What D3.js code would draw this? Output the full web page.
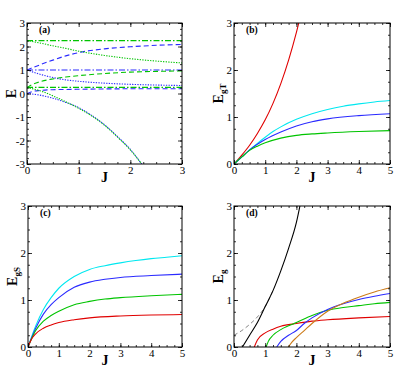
<!DOCTYPE html>
<html>
<head>
<meta charset="utf-8">
<script src="https://cdn.jsdelivr.net/npm/d3@7"></script>
<style>
  body { margin: 0; background: #fff; }
  text { font-family: "Liberation Serif", "Times New Roman", serif; }
</style>
</head>
<body>
<svg id="chart" width="415" height="369"></svg>
<script>
// four panels of energies vs J

// ---- panel (a): E vs J ----
const aGreenDashDotHigh = [[0, 2.25], [3, 2.25]];
const aGreenDashDotLow = [[0, 0.26], [3, 0.26]];
const aBlueDashDot = [[0, 1.0], [3, 1.0]];
const aGreenDotHigh = [[0, 2.25], [0.25, 2.15], [0.5, 2.03], [0.75, 1.92], [1, 1.8], [1.5, 1.62], [2, 1.48], [2.5, 1.38], [3, 1.3]];
const aBlueDashHigh = [[0, 1.0], [0.25, 1.22], [0.5, 1.42], [0.75, 1.6], [1, 1.74], [1.5, 1.9], [2, 1.99], [2.5, 2.05], [3, 2.09]];
const aGreenDashMid = [[0, 0.25], [0.1, 0.38], [0.25, 0.5], [0.5, 0.62], [0.75, 0.7], [1, 0.76], [1.5, 0.85], [2, 0.91], [2.5, 0.94], [3, 0.96]];
const aBlueDotMid = [[0, 1.0], [0.25, 0.82], [0.5, 0.68], [0.75, 0.58], [1, 0.52], [1.5, 0.44], [2, 0.39], [2.5, 0.36], [3, 0.34]];
const aBlueDashLow = [[0, 0], [0.1, 0.08], [0.25, 0.13], [0.5, 0.16], [1, 0.18], [2, 0.2], [3, 0.2]];
const aBlueDotLow = [[0, 0], [0.25, -0.07], [0.5, -0.2], [0.75, -0.38], [1, -0.6], [1.25, -0.93], [1.5, -1.33], [1.75, -1.83], [2, -2.38], [2.22, -3]];
const aGreenDotLow = [[0, 0.25], [0.25, 0.12], [0.5, -0.1], [0.75, -0.35], [1, -0.63], [1.25, -0.95], [1.5, -1.35], [1.75, -1.85], [2, -2.4], [2.22, -3]];

// ---- panel (b): E_gT vs J ----
const bRed = [[0, 0], [0.25, 0.19], [0.5, 0.4], [0.75, 0.65], [1, 0.94], [1.25, 1.29], [1.5, 1.71], [1.75, 2.21], [2, 2.8], [2.25, 3.49]];
const bCyan = [[0, 0], [0.25, 0.15], [0.5, 0.3], [0.75, 0.44], [1, 0.57], [1.25, 0.69], [1.5, 0.79], [2, 0.95], [2.5, 1.07], [3, 1.16], [3.5, 1.23], [4, 1.28], [4.5, 1.32], [5, 1.35]];
const bBlue = [[0, 0], [0.25, 0.15], [0.5, 0.3], [0.75, 0.42], [1, 0.52], [1.5, 0.68], [2, 0.81], [2.5, 0.9], [3, 0.96], [4, 1.03], [5, 1.07]];
const bGreen = [[0, 0], [0.25, 0.15], [0.5, 0.29], [0.75, 0.38], [1, 0.45], [1.5, 0.55], [2, 0.61], [2.5, 0.64], [3, 0.66], [4, 0.69], [5, 0.71]];

// ---- panel (c): E_gS vs J ----
const cCyan = [[0, 0], [0.25, 0.45], [0.5, 0.8], [0.75, 1.05], [1, 1.25], [1.5, 1.5], [2, 1.65], [2.5, 1.73], [3, 1.79], [3.5, 1.84], [4, 1.88], [4.5, 1.91], [5, 1.94]];
const cBlue = [[0, 0], [0.25, 0.4], [0.5, 0.7], [0.75, 0.9], [1, 1.05], [1.5, 1.27], [2, 1.38], [2.5, 1.44], [3, 1.48], [4, 1.52], [5, 1.55]];
const cGreen = [[0, 0], [0.25, 0.35], [0.5, 0.55], [0.75, 0.67], [1, 0.76], [1.5, 0.9], [2, 0.97], [2.5, 1.02], [3, 1.05], [4, 1.09], [5, 1.12]];
const cRed = [[0, 0], [0.1, 0.15], [0.25, 0.28], [0.5, 0.4], [0.75, 0.47], [1, 0.52], [1.5, 0.58], [2, 0.62], [3, 0.66], [4, 0.68], [5, 0.69]];

// ---- panel (d): E_g vs J ----
const dBlack = [[0.27, 0], [0.5, 0.25], [0.75, 0.52], [1, 0.86], [1.25, 1.2], [1.5, 1.62], [1.75, 2.1], [2, 2.65], [2.2, 3.3]];
const dGrayDash = [[0, 0.25], [0.25, 0.35], [0.5, 0.48], [0.75, 0.64], [1, 0.86], [1.25, 1.2]];
const dRed = [[0.65, 0], [0.75, 0.15], [1, 0.3], [1.25, 0.38], [1.5, 0.44], [2, 0.5], [2.5, 0.55], [3, 0.58], [4, 0.62], [5, 0.65]];
const dGreen = [[1.03, 0], [1.1, 0.12], [1.25, 0.25], [1.5, 0.37], [1.75, 0.45], [2, 0.52], [2.5, 0.67], [3, 0.78], [3.5, 0.84], [4, 0.88], [4.5, 0.92], [5, 0.95]];
const dBlue = [[1.37, 0], [1.5, 0.12], [1.75, 0.25], [2, 0.35], [2.25, 0.5], [2.5, 0.62], [3, 0.8], [3.5, 0.92], [4, 1.01], [4.5, 1.08], [5, 1.14]];
const dOrange = [[1.74, 0], [1.85, 0.1], [2, 0.2], [2.25, 0.35], [2.5, 0.5], [3, 0.76], [3.5, 0.93], [4, 1.06], [4.5, 1.17], [5, 1.26]];

// tick values
const ticksJ3 = [0, 1, 2, 3];
const ticksJ5 = [0, 1, 2, 3, 4, 5];
const ticksEa = [-3, -2, -1, 0, 1, 2, 3];
const ticksE3 = [0, 1, 2, 3];

const GREEN = "#00c400", BLUE = "#2a2aff", RED = "#e00000", CYAN = "#00e8f0", ORANGE = "#cc7a18";
const DASH = "5,3", DOT = "1.3,1.3", DASHDOT = "6,2,1.5,2";

const svg = d3.select("#chart");

function minorTicks(domain) {
    return d3.range(domain[0], domain[1] + 0.001, 0.25);
}

function panel(p) {
    const x = d3.scaleLinear().domain(p.xDomain).range([p.left, p.right]);
    const y = d3.scaleLinear().domain(p.yDomain).range([p.bottom, p.top]);
    const g = svg.append("g");

    g.append("clipPath").attr("id", "clip-" + p.id)
        .append("rect")
        .attr("x", p.left).attr("y", p.top)
        .attr("width", p.right - p.left).attr("height", p.bottom - p.top);

    const line = d3.line()
        .x(d => x(d[0]))
        .y(d => y(d[1]))
        .curve(d3.curveMonotoneX);

    const curves = g.append("g").attr("clip-path", `url(#clip-${p.id})`);
    p.series.forEach(s => {
        curves.append("path")
            .datum(s.data)
            .attr("fill", "none")
            .attr("stroke", s.color)
            .attr("stroke-width", s.width || 1.1)
            .attr("stroke-dasharray", s.dash || null)
            .attr("d", line);
    });

    const fmt = d => String(d);
    // major ticks with labels (bottom, left), inward ticks
    const axes = [
        { ax: d3.axisBottom(x).tickValues(p.xTicks).tickSize(-4).tickPadding(2).tickFormat(fmt), t: `translate(0,${p.bottom})` },
        { ax: d3.axisLeft(y).tickValues(p.yTicks).tickSize(-4).tickPadding(2).tickFormat(fmt), t: `translate(${p.left},0)` },
        { ax: d3.axisTop(x).tickValues(p.xTicks).tickSize(-4).tickFormat(""), t: `translate(0,${p.top})` },
        { ax: d3.axisRight(y).tickValues(p.yTicks).tickSize(-4).tickFormat(""), t: `translate(${p.right},0)` },
        { ax: d3.axisBottom(x).tickValues(minorTicks(p.xDomain)).tickSize(-2).tickFormat(""), t: `translate(0,${p.bottom})` },
        { ax: d3.axisLeft(y).tickValues(minorTicks(p.yDomain)).tickSize(-2).tickFormat(""), t: `translate(${p.left},0)` },
        { ax: d3.axisTop(x).tickValues(minorTicks(p.xDomain)).tickSize(-2).tickFormat(""), t: `translate(0,${p.top})` },
        { ax: d3.axisRight(y).tickValues(minorTicks(p.yDomain)).tickSize(-2).tickFormat(""), t: `translate(${p.right},0)` }
    ];
    axes.forEach(a => {
        const ag = g.append("g").attr("transform", a.t).call(a.ax);
        ag.select(".domain").remove();
        ag.selectAll("line").attr("stroke", "#000").attr("stroke-width", 0.8);
        ag.selectAll("text")
            .attr("font-family", '"Liberation Serif", serif')
            .attr("font-size", 11)
            .attr("fill", "#000");
    });

    g.append("rect")
        .attr("x", p.left).attr("y", p.top)
        .attr("width", p.right - p.left).attr("height", p.bottom - p.top)
        .attr("fill", "none").attr("stroke", "#000").attr("stroke-width", 1);

    // panel tag
    g.append("text")
        .attr("x", p.left + 12).attr("y", p.top + 10)
        .attr("font-size", 9.5).attr("font-weight", "bold")
        .text(p.tag);

    // x label
    g.append("text")
        .attr("x", (p.left + p.right) / 2).attr("y", p.bottom + 18)
        .attr("text-anchor", "middle")
        .attr("font-size", 14).attr("font-weight", "bold")
        .text("J");

    // y label, rotated
    const yl = g.append("text")
        .attr("transform", `translate(${p.left - 11},${(p.top + p.bottom) / 2}) rotate(-90)`)
        .attr("text-anchor", "middle")
        .attr("font-size", 14).attr("font-weight", "bold");
    yl.append("tspan").text("E");
    if (p.sub) {
        yl.append("tspan").attr("font-size", 9).attr("dy", 3).text(p.sub);
    }
}

panel({
    id: "a", tag: "(a)", sub: null,
    left: 27, right: 182, top: 23, bottom: 164,
    xDomain: [0, 3], yDomain: [-3, 3], xTicks: ticksJ3, yTicks: ticksEa,
    series: [
        { data: aBlueDashDot, color: BLUE, dash: DASHDOT },
        { data: aBlueDashHigh, color: BLUE, dash: DASH },
        { data: aBlueDotMid, color: BLUE, dash: DOT },
        { data: aBlueDashLow, color: BLUE, dash: DASH },
        { data: aBlueDotLow, color: BLUE, dash: DOT },
        { data: aGreenDashDotHigh, color: GREEN, dash: DASHDOT },
        { data: aGreenDashDotLow, color: GREEN, dash: DASHDOT },
        { data: aGreenDotHigh, color: GREEN, dash: DOT },
        { data: aGreenDashMid, color: GREEN, dash: DASH },
        { data: aGreenDotLow, color: GREEN, dash: DOT }
    ]
});

panel({
    id: "b", tag: "(b)", sub: "gT",
    left: 234, right: 390, top: 23, bottom: 164,
    xDomain: [0, 5], yDomain: [0, 3], xTicks: ticksJ5, yTicks: ticksE3,
    series: [
        { data: bRed, color: RED },
        { data: bCyan, color: CYAN },
        { data: bBlue, color: BLUE },
        { data: bGreen, color: GREEN }
    ]
});

panel({
    id: "c", tag: "(c)", sub: "gS",
    left: 28, right: 182, top: 206, bottom: 347,
    xDomain: [0, 5], yDomain: [0, 3], xTicks: ticksJ5, yTicks: ticksE3,
    series: [
        { data: cCyan, color: CYAN },
        { data: cBlue, color: BLUE },
        { data: cGreen, color: GREEN },
        { data: cRed, color: RED }
    ]
});

panel({
    id: "d", tag: "(d)", sub: "g",
    left: 234, right: 390, top: 206, bottom: 347,
    xDomain: [0, 5], yDomain: [0, 3], xTicks: ticksJ5, yTicks: ticksE3,
    series: [
        { data: dGrayDash, color: "#777", dash: "4,3", width: 0.9 },
        { data: dBlack, color: "#000" },
        { data: dRed, color: RED },
        { data: dGreen, color: GREEN },
        { data: dBlue, color: BLUE },
        { data: dOrange, color: ORANGE }
    ]
});
</script>
</body>
</html>
